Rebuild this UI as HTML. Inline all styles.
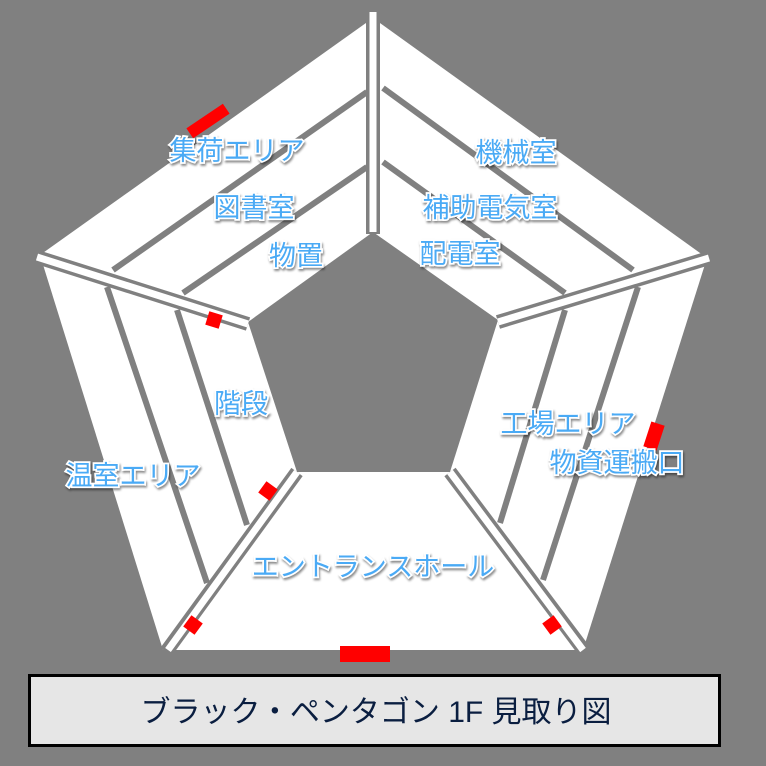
<!DOCTYPE html>
<html><head><meta charset="utf-8"><style>
html,body{margin:0;padding:0;background:#808080;}
svg{display:block;}
.l{font-family:"Liberation Sans","Noto Sans CJK JP",sans-serif;font-size:27px;font-weight:normal;fill:#4aaaf5;stroke:#ffffff;stroke-width:3.5px;paint-order:stroke;text-anchor:middle;filter:drop-shadow(1px 2px 1px rgba(0,0,0,0.45));}
</style></head><body>
<svg width="766" height="766" viewBox="0 0 766 766" xmlns="http://www.w3.org/2000/svg">
<rect width="766" height="766" fill="#808080"/>
<polygon points="373,18 707,258 583,650 163,650 40,255" fill="#fff"/>
<polygon points="373,232 498,320 450,472 297,472 248,322" fill="#808080"/>
<g stroke="#808080" stroke-width="6">
<line x1="367" y1="92" x2="113" y2="270"/>
<line x1="367" y1="167" x2="183" y2="293"/>
<line x1="383" y1="88" x2="633" y2="270"/>
<line x1="383" y1="162" x2="565" y2="293"/>
<line x1="107" y1="287" x2="207" y2="583"/>
<line x1="177" y1="310" x2="247" y2="525"/>
<line x1="565" y1="310" x2="500" y2="523"/>
<line x1="638" y1="287" x2="543" y2="580"/>
</g>
<g stroke="#808080" stroke-width="14">
<line x1="373" y1="12" x2="373" y2="234"/>
<line x1="37" y1="257" x2="248" y2="324"/>
<line x1="709" y1="258" x2="498" y2="322"/>
<line x1="166" y1="652" x2="297" y2="472"/>
<line x1="585" y1="652" x2="450" y2="472"/>
</g>
<g stroke="#fff" stroke-width="7">
<line x1="373" y1="12" x2="373" y2="232"/>
<line x1="37" y1="257" x2="248" y2="324"/>
<line x1="709" y1="258" x2="498" y2="322"/>
<line x1="168" y1="650" x2="297" y2="472"/>
<line x1="583" y1="650" x2="450" y2="472"/>
</g>
<g fill="#ff0000">
<rect x="-22" y="-6" width="44" height="12" transform="translate(208,121) rotate(-34)"/>
<rect x="-7" y="-7" width="14" height="14" transform="translate(214,320) rotate(17)"/>
<rect x="-7" y="-7" width="14" height="14" transform="translate(268,491) rotate(-54)"/>
<rect x="-7" y="-7" width="14" height="14" transform="translate(193,625) rotate(-54)"/>
<rect x="-7" y="-7" width="14" height="14" transform="translate(552,625) rotate(54)"/>
<rect x="340" y="646" width="50" height="16"/>
<rect x="-7" y="-13" width="14" height="26" transform="translate(654,436) rotate(18)"/>
</g>
<text class="l" x="237" y="160">集荷エリア</text>
<text class="l" x="254" y="217">図書室</text>
<text class="l" x="296" y="265">物置</text>
<text class="l" x="516" y="162">機械室</text>
<text class="l" x="490" y="217">補助電気室</text>
<text class="l" x="460" y="263">配電室</text>
<text class="l" x="241" y="413">階段</text>
<text class="l" x="133" y="485">温室エリア</text>
<text class="l" x="568" y="433">工場エリア</text>
<text class="l" x="617" y="472">物資運搬口</text>
<text class="l" x="373" y="576">エントランスホール</text>
<rect x="29.5" y="675.5" width="690" height="70" fill="#e6e6e6" stroke="#000" stroke-width="3"/>
<text x="376" y="722" font-family="Liberation Sans,Noto Sans CJK JP,sans-serif" font-size="30" fill="#0a1e40" text-anchor="middle">ブラック・ペンタゴン 1F 見取り図</text>
</svg>
</body></html>
